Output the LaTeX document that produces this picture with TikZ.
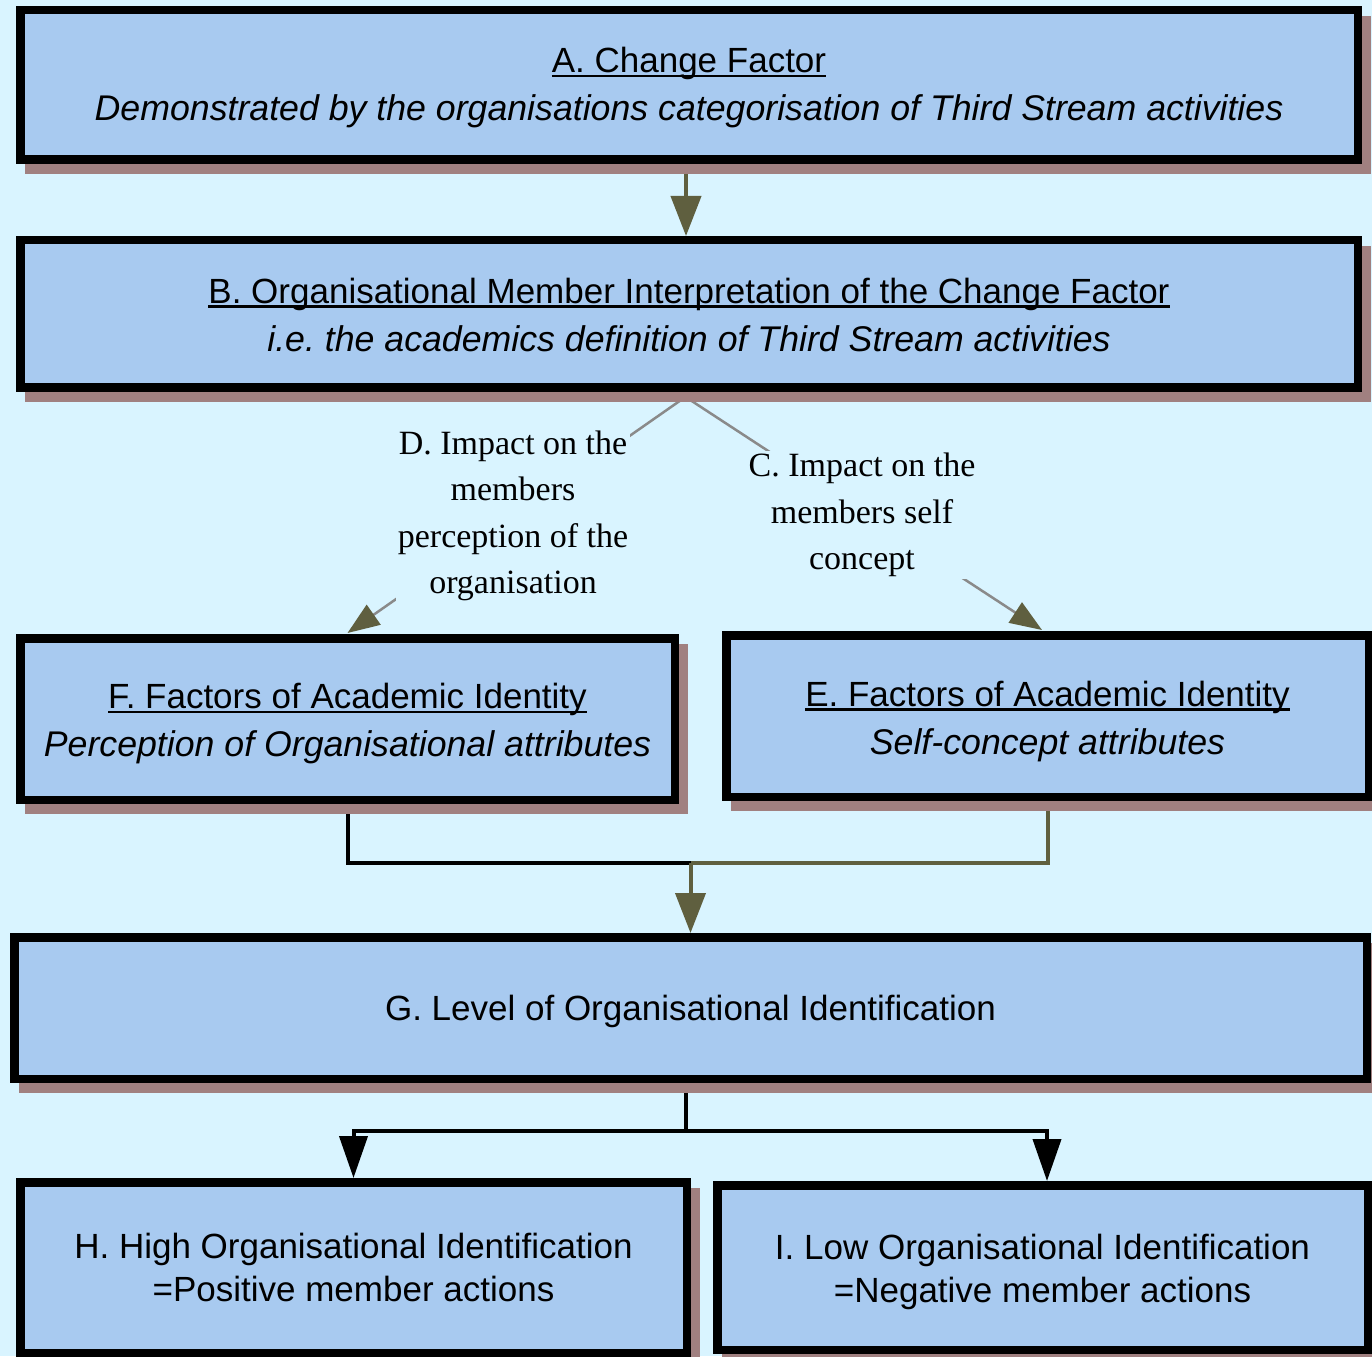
\documentclass[tikz,border=0pt]{standalone}
\usepackage{fontspec}
\setmainfont{Liberation Serif}
\newfontfamily\sansf{Liberation Sans}
\usetikzlibrary{arrows.meta}
\definecolor{bgc}{HTML}{D9F4FF}
\definecolor{boxc}{HTML}{A8CAF0}
\definecolor{shadowc}{HTML}{A08080}
\definecolor{olivec}{HTML}{5F5F3F}
\definecolor{greyc}{HTML}{8A8A8A}
\pgfdeclarelayer{bglayer}
\pgfdeclarelayer{lines}
\pgfsetlayers{bglayer,lines,main}
\newcommand\myul[1]{\setbox0=\hbox{#1}\rlap{\rule[-4.5pt]{\wd0}{2.5pt}}\box0}
\newcommand\subt{\fontsize{35.7}{48}\selectfont\itshape}
\frenchspacing
\begin{document}
\begin{tikzpicture}[x=1pt,y=-1pt,
  box/.style={draw=black, line width=8.5pt, fill=boxc,
    preaction={draw=shadowc, fill=shadowc, transform canvas={xshift=9pt,yshift=-10pt}},
    inner sep=0pt, outer sep=0pt},
  txt/.style={inner sep=0pt, align=center, font=\sansf\fontsize{35}{48}\selectfont},
  txtb/.style={txt, font=\sansf\fontsize{35}{43}\selectfont},
  lbl/.style={fill=bgc, inner sep=2pt, align=center, font=\fontsize{34}{46.5}\selectfont},
  conn/.style={line width=4pt},
  otip/.style={-{Triangle[width=30pt,length=40pt]}},
  gtip/.style={-{Triangle[width=24pt,length=32pt,color=olivec]}},
  btip/.style={-{Triangle[width=28pt,length=42pt]}}]
\useasboundingbox (0,0) rectangle (1372,1356);
\begin{pgfonlayer}{bglayer}
\fill[bgc] (0,0) rectangle (1372,1356);
\end{pgfonlayer}

\node[box, minimum width=1337.5pt, minimum height=149.5pt] (A) at (689,85) {};
\node[box, minimum width=1337.5pt, minimum height=147.2pt] (B) at (689,313.85) {};
\node[box, minimum width=654.5pt, minimum height=161.5pt] (F) at (347.5,719) {};
\node[box, minimum width=642.5pt, minimum height=161.5pt] (E) at (1047.5,716) {};
\node[box, minimum width=1352.5pt, minimum height=141.5pt] (G) at (690.5,1008) {};
\node[box, minimum width=666.5pt, minimum height=170.5pt] (H) at (353.5,1267.5) {};
\node[box, minimum width=650.5pt, minimum height=164.5pt] (I) at (1042.5,1267.5) {};

\node[txt] (At) at ([yshift=-3pt]A.center)
  {\myul{A. Change Factor}\\\subt Demonstrated by the organisations categorisation of Third Stream activities};
\node[txt] (Bt) at ([yshift=-1pt]B.center)
  {\myul{B. Organisational Member Interpretation of the Change Factor}\\\subt i.e. the academics definition of Third Stream activities};
\node[txt] (Ft) at ([yshift=-5pt]F.center)
  {\myul{F. Factors of Academic Identity}\\\subt Perception of Organisational attributes};
\node[txt] (Et) at ([yshift=-5.5pt]E.center)
  {\myul{E. Factors of Academic Identity}\\\subt Self-concept attributes};
\node[txt] (Gt) at ([yshift=-3pt]G.center)
  {G. Level of Organisational Identification};
\node[txtb] (Ht) at (H.center)
  {H. High Organisational Identification\\=Positive member actions};
\node[txtb] (It) at ([yshift=-4pt]I.center)
  {I. Low Organisational Identification\\=Negative member actions};

\node[lbl] (D) at (513,516) {D. Impact on the\\members\\perception of the\\organisation};
\node[lbl] (C) at (862,515) {C. Impact on the\\members self\\concept};

\coordinate (jn) at (690.5,863);
\coordinate (gj) at (686,1131);

\begin{pgfonlayer}{lines}
\draw[conn, olivec, otip] ([xshift=-3pt]A.south) -- ([xshift=-3pt,yshift=4.25pt]B.north);
\draw[line width=2.5pt, greyc, gtip] ([xshift=10pt]B.south) -- ([yshift=5.25pt]F.north);
\draw[line width=2.5pt, greyc, gtip] ([xshift=-18pt]B.south) -- ([xshift=-5.5pt,yshift=5.25pt]E.north);
\draw[conn, black] (F.south) |- (jn);
\draw[conn, olivec] (E.south) |- (jn);
\draw[conn, olivec, otip] (jn) -- ([yshift=4.25pt]G.north);
\draw[conn] ([xshift=-4.5pt]G.south) -- (gj);
\draw[conn, btip] (gj) -| ([yshift=4.25pt]H.north);
\draw[conn, btip] (gj) -| ([xshift=4.5pt,yshift=4.25pt]I.north);
\end{pgfonlayer}
\end{tikzpicture}
\end{document}
